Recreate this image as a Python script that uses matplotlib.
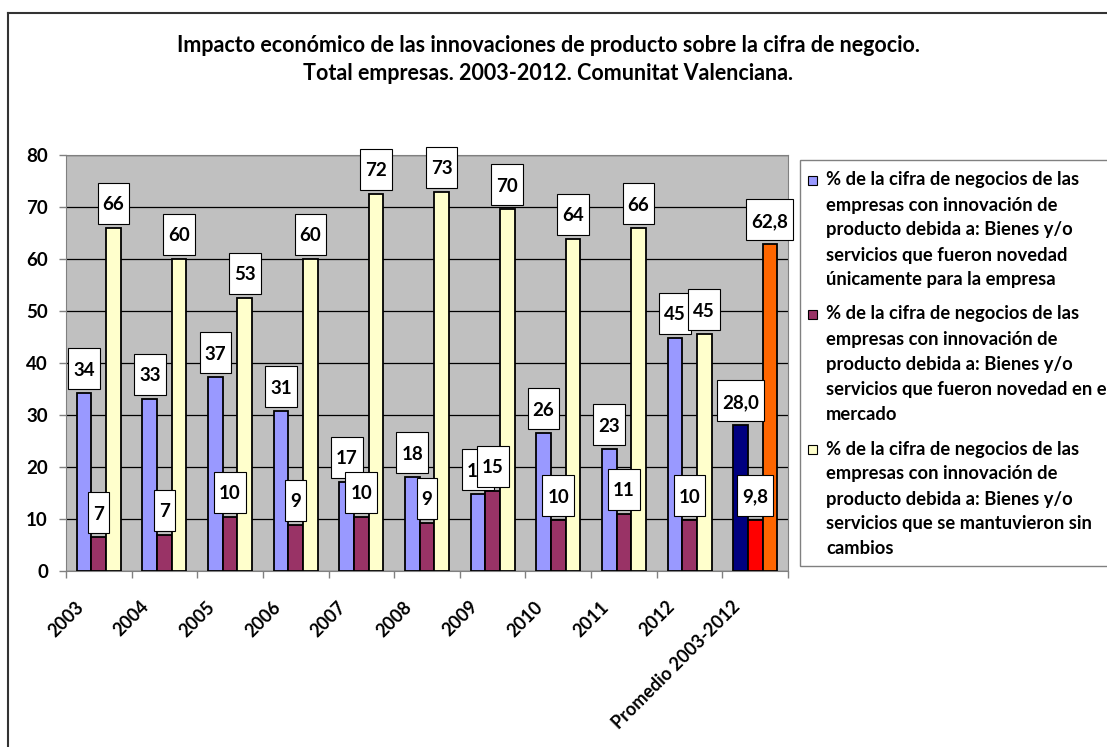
import matplotlib
matplotlib.use("Agg")
import matplotlib.pyplot as plt
from matplotlib.patches import Rectangle
from matplotlib.transforms import IdentityTransform, offset_copy, blended_transform_factory
import numpy as np

plt.rcParams['font.family'] = ['Lato', 'DejaVu Sans']

categories = ["2003", "2004", "2005", "2006", "2007", "2008", "2009", "2010", "2011", "2012",
              "Promedio 2003-2012"]
novedad_empresa = [34.2, 33.1, 37.3, 30.7, 17.2, 18.0, 14.8, 26.5, 23.4, 44.9, 28.0]
novedad_mercado = [6.5, 7.0, 10.4, 8.9, 10.4, 9.3, 15.4, 9.8, 11.0, 9.8, 9.8]
sin_cambios = [66.0, 60.0, 52.5, 60.0, 72.5, 72.9, 69.6, 63.9, 65.9, 45.5, 62.8]
labels_empresa = ["34", "33", "37", "31", "17", "18", "15", "26", "23", "45", "28,0"]
labels_mercado = ["7", "7", "10", "9", "10", "9", "15", "10", "11", "10", "9,8"]
labels_sin = ["66", "60", "53", "60", "72", "73", "70", "64", "66", "45", "62,8"]

legend_lines = [
    ["% de la cifra de negocios de las", "empresas con innovación de",
     "producto debida a: Bienes y/o", "servicios que fueron novedad",
     "únicamente para la empresa"],
    ["% de la cifra de negocios de las", "empresas con innovación de",
     "producto debida a: Bienes y/o", "servicios que fueron novedad en el",
     "mercado"],
    ["% de la cifra de negocios de las", "empresas con innovación de",
     "producto debida a: Bienes y/o", "servicios que se mantuvieron sin",
     "cambios"],
]
title_lines = ["Impacto económico de las innovaciones de producto sobre la cifra de negocio.",
               "Total empresas. 2003-2012. Comunitat Valenciana."]

colors = ["#9999FF", "#993366", "#FFFFCC"]
avg_colors = ["#000080", "#FF0000", "#FF6600"]

W, H = 1107, 747
fig = plt.figure(figsize=(W / 100, H / 100), dpi=100)

def fx(px):
    return px / W

def fy(py):
    return 1 - py / H

# outer frame (top and left edges visible)
fig.add_artist(plt.Line2D([fx(8), 1.0], [fy(13), fy(13)], transform=fig.transFigure,
                          color="#333333", lw=1.5))
fig.add_artist(plt.Line2D([fx(8), fx(8)], [fy(13), 0.0], transform=fig.transFigure,
                          color="#333333", lw=1.5))

ax = fig.add_axes([fx(66), fy(571), (788 - 66) / W, (571 - 155) / H])
ax.set_facecolor("#C0C0C0")
ax.set_xlim(0, len(categories))
ax.set_ylim(0, 80)
ax.set_yticks(np.arange(0, 81, 10))
ax.yaxis.grid(True, color="black", lw=0.9)
ax.set_axisbelow(True)
for s in ["top", "right", "left", "bottom"]:
    ax.spines[s].set_color("#808080")

n = len(categories)
x = np.arange(n) + 0.5
w = 0.2235
series = [novedad_empresa, novedad_mercado, sin_cambios]
series_labels = [labels_empresa, labels_mercado, labels_sin]
for k, vals in enumerate(series):
    cols = [colors[k]] * (n - 1) + [avg_colors[k]]
    ax.bar(x + (k - 1) * w, vals, width=w, color=cols, edgecolor="black", lw=1.3, zorder=3)

# ticks
ax.set_xticks(np.arange(0, n + 1))
ax.set_xticklabels([])
ax.tick_params(axis="x", length=5, color="#808080", width=1)
ax.tick_params(axis="y", length=5, color="#808080", width=1, pad=8, labelsize=13.5)
for t in ax.get_yticklabels():
    t.set_fontweight("bold")

trans = blended_transform_factory(ax.transData, ax.transAxes)
for i, c in enumerate(categories):
    t = offset_copy(trans, fig=fig, x=-12, y=-27, units="dots")
    ax.text(x[i], 0, c, transform=t, rotation=45, ha="right", va="top",
            fontsize=13, fontweight="bold")

# data labels
texts = []
for k, (vals, labs) in enumerate(zip(series, series_labels)):
    for i in range(n):
        tr = offset_copy(ax.transData, fig=fig, x=0, y=24.5, units="dots")
        t = ax.text(x[i] + (k - 1) * w, vals[i], labs[i], transform=tr, ha="center",
                    va="center_baseline", fontsize=13.5, fontweight="bold", zorder=11 + 2 * k,
                    clip_on=False)
        texts.append((t, k, x[i] + (k - 1) * w, vals[i]))

fig.text(fx(548), fy(45), title_lines[0], ha="center", va="center", fontsize=15.5,
         fontweight="bold")
fig.text(fx(548), fy(73), title_lines[1], ha="center", va="center", fontsize=15.5,
         fontweight="bold")

# legend
fig.add_artist(Rectangle((fx(800), fy(566)), (1115 - 800) / W, (566 - 160) / H,
                         transform=fig.transFigure, facecolor="white",
                         edgecolor="#808080", lw=1))
entry_top = [180, 314, 449]
for k, lines in enumerate(legend_lines):
    y0 = entry_top[k]
    fig.add_artist(Rectangle((fx(808), fy(y0 + 5)), 9 / W, 9 / H, transform=fig.transFigure,
                             facecolor=colors[k], edgecolor="black", lw=0.8))
    for j, line in enumerate(lines):
        fig.text(fx(826), fy(y0 + 25 * j), line, ha="left", va="center",
                 fontsize=13.2, fontweight="bold")

fig.canvas.draw()
renderer = fig.canvas.get_renderer()
for t, k, xv, yv in texts:
    bb = t.get_window_extent(renderer)
    cx, cy = ax.transData.transform((xv, yv))
    cy += 24.5
    bw = bb.width + 10
    bh = 41
    rect = Rectangle((cx - bw / 2, cy - bh / 2), bw, bh, transform=IdentityTransform(),
                     facecolor="white", edgecolor="black", lw=0.8, zorder=10 + 2 * k,
                     clip_on=False)
    ax.add_artist(rect)

fig.savefig("out.png", dpi=100)
